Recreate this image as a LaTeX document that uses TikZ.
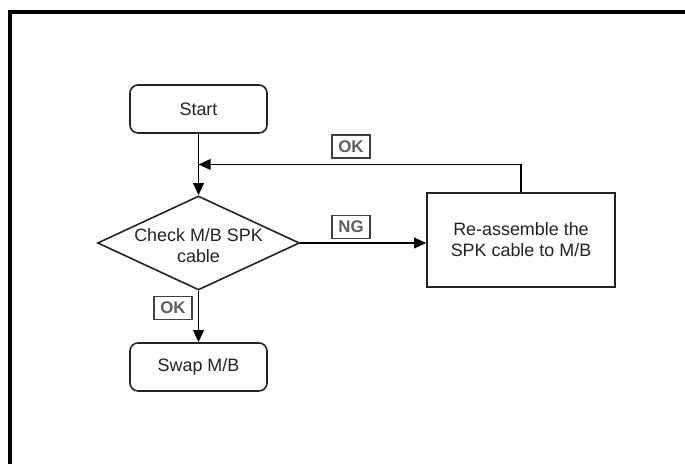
\documentclass[tikz,border=0pt]{standalone}
\usepackage{fontspec}
\setmainfont{Liberation Sans}
\usepackage{xcolor}
\usepackage{tikz}
\usetikzlibrary{shapes.geometric, arrows.meta, positioning, calc}
\definecolor{tagGray}{HTML}{5E5E5E}
\definecolor{boxEdge}{HTML}{222222}
\tikzset{
  stepbox/.style={draw=boxEdge, line width=0.9pt, rounded corners=1.6mm, minimum width=2.74cm, minimum height=0.96cm, inner sep=0pt, text=boxEdge, font=\fontsize{10.2}{12}\selectfont},
  decision/.style={draw=boxEdge, line width=0.9pt, diamond, minimum width=4.04cm, minimum height=1.88cm, inner sep=0pt},
  fixbox/.style={draw=boxEdge, line width=0.9pt, minimum width=3.76cm, minimum height=1.88cm, inner sep=0pt, align=center, text=boxEdge, font=\fontsize{10.2}{12}\selectfont},
  tag/.style={draw=black!75, line width=0.8pt, text=tagGray, minimum width=0.76cm, minimum height=0.46cm, inner sep=0pt, font=\bfseries\fontsize{9.6}{10}\selectfont},
  flow/.style={line width=1.1pt, -{Triangle[length=2.4mm, width=2.1mm]}}
}
\begin{document}
\begin{tikzpicture}
\useasboundingbox (0,0) rectangle (13.7,9.28);
% outer frame
\draw[line width=2.3pt] (0.2,-0.2) -- (0.2,9.04) -- (13.9,9.04);

% flow nodes
\node[stepbox] (start) at (3.97,7.10) {Start};
\node[decision] (check) at (3.97,4.42) {};
\node[align=center, text=boxEdge, font=\fontsize{10.2}{11.6}\selectfont] (checktext) at ($(check.center)+(0,-0.05)$) {Check M/B SPK\\cable};
\node[fixbox] (fix) at (10.42,4.48) {Re-assemble the\\SPK cable to M/B};
\node[stepbox] (swap) at (3.97,1.94) {Swap M/B};
\coordinate (merge) at ($(start.south)!0.5!(check.north)$);

% connectors
\draw[flow] (start) -- (check);
\draw[flow] (check.east) -- (check.east -| fix.west);
\draw[flow] (check) -- (swap);
\draw[flow] (fix.north) |- (merge);

% result tags
\node[tag] (okmerge) at (7.02,6.35) {OK};
\node[tag] (ng) at (7.02,4.74) {NG};
\node[tag] (okswap) at (3.46,3.12) {OK};
\end{tikzpicture}
\end{document}
